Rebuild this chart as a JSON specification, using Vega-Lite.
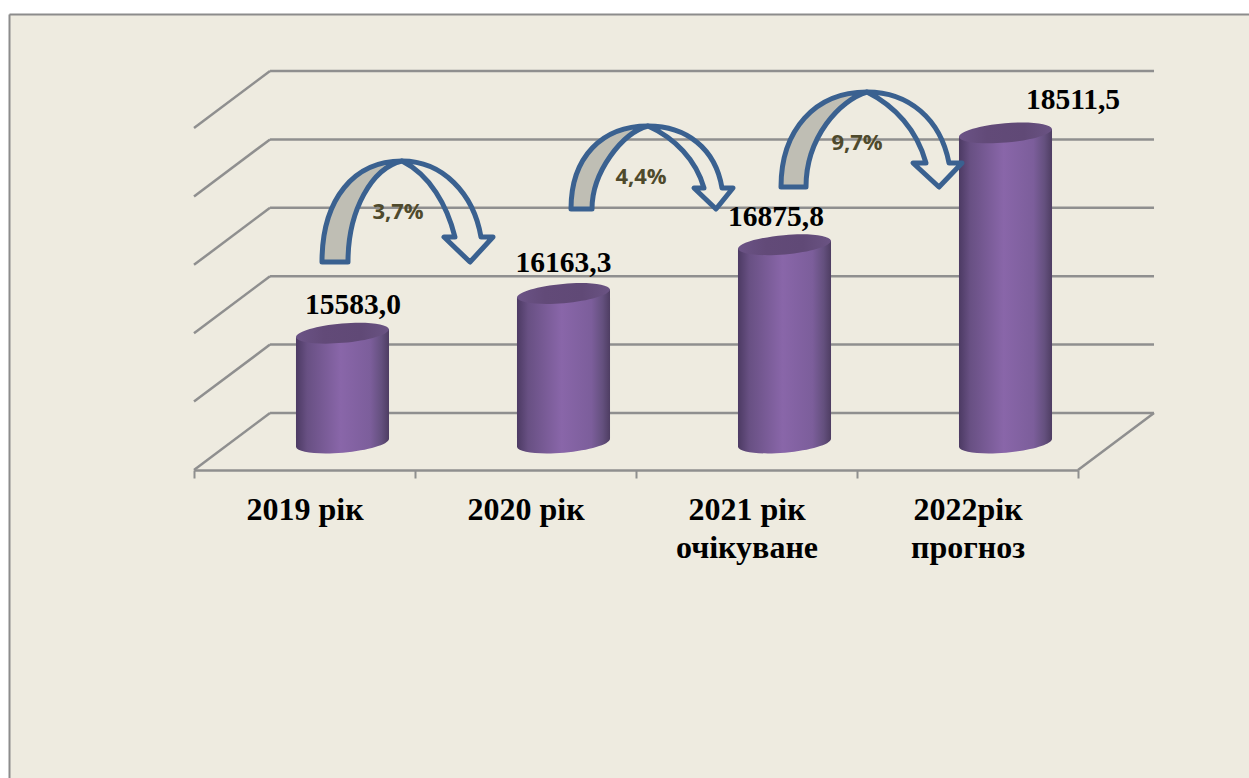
{"$schema":"https://vega.github.io/schema/vega-lite/v6.json","width":1240,"height":764,"autosize":"none","padding":{"left":9,"top":14,"right":0,"bottom":0},"background":"#FFFFFF","view":{"fill":"#EEEBE0","stroke":null},
"datasets":{
"bars":[{"year":"2019 рік","value":15583.0,"label":"15583,0","growth":"3,7%"},{"year":"2020 рік","value":16163.3,"label":"16163,3","growth":"4,4%"},{"year":"2021 рік|очікуване","value":16875.8,"label":"16875,8","growth":"9,7%"},{"year":"2022рік|прогноз","value":18511.5,"label":"18511,5","growth":""}],
"grid":[{"x":0.344,"x2":4.344,"value":14417,"value2":14417},{"x":0.344,"x2":4.344,"value":15417,"value2":15417},{"x":0.344,"x2":4.344,"value":16417,"value2":16417},{"x":0.344,"x2":4.344,"value":17417,"value2":17417},{"x":0.344,"x2":4.344,"value":18417,"value2":18417},{"x":0.344,"x2":4.344,"value":19417,"value2":19417},{"x":0,"x2":0.344,"value":13583,"value2":14417},{"x":0,"x2":0.344,"value":14583,"value2":15417},{"x":0,"x2":0.344,"value":15583,"value2":16417},{"x":0,"x2":0.344,"value":16583,"value2":17417},{"x":0,"x2":0.344,"value":17583,"value2":18417},{"x":0,"x2":0.344,"value":18583,"value2":19417},{"x":4,"x2":4.344,"value":13583,"value2":14417}]},
"encoding":{"y":{"field":"value","type":"quantitative","scale":{"domain":[9080.4,20250],"nice":false,"zero":false},"axis":{"orient":"left","title":null,"grid":false,"ticks":false,"labels":false,"domain":true,"domainColor":"#8C8C8C","domainWidth":2}}},
"resolve":{"scale":{"x":"independent","shape":"independent"}},
"layer":[
{"data":{"name":"grid"},"mark":{"type":"rule","color":"#8F8F8F","strokeWidth":2.5},"encoding":{"x":{"field":"x","type":"quantitative","scale":{"domain":[-0.8371,4.7738],"nice":false,"zero":false},"axis":{"orient":"top","title":null,"grid":false,"ticks":false,"labels":false,"domain":true,"domainColor":"#8C8C8C","domainWidth":2}},"x2":{"field":"x2"},"y2":{"field":"value2"}}},
{"data":{"name":"bars"},"mark":{"type":"bar","opacity":0},"encoding":{"x":{"field":"year","type":"nominal","sort":null,"scale":{"type":"band","range":[185,1069],"paddingInner":0,"paddingOuter":0},"axis":{"orient":"bottom","title":null,"offset":-308,"grid":false,"domain":true,"domainColor":"#8F8F8F","domainWidth":2.5,"ticks":true,"tickColor":"#8F8F8F","tickWidth":2,"tickSize":8,"tickBand":"extent","labelAngle":0,"labelFont":"Liberation Serif","labelFontWeight":"bold","labelFontSize":32,"labelColor":"#000000","labelPadding":16,"labelLineHeight":38,"labelOverlap":false,"labelExpr":"split(datum.label,'|')"}}}},
{"data":{"name":"bars"},"mark":{"type":"bar","yOffset":4,"y2Offset":-3,"fill":{"gradient":"linear","x1":0,"y1":0,"x2":1,"y2":0,"stops":[{"offset":0,"color":"#4C3A63"},{"offset":0.12,"color":"#685083"},{"offset":0.48,"color":"#8966A9"},{"offset":0.8,"color":"#7C5E9B"},{"offset":0.92,"color":"#64507E"},{"offset":1,"color":"#4E3D62"}]}},"encoding":{"x":{"field":"year","type":"nominal","sort":null,"scale":{"type":"band","domain":["2019 рік","2020 рік","2021 рік|очікуване","2022рік|прогноз"],"range":[223,1107],"paddingInner":0.579,"paddingOuter":0.2895},"axis":null},"y2":{"datum":14000}}},
{"data":{"name":"bars"},"mark":{"type":"point","filled":true,"opacity":1,"size":4,"shape":"M-46.5,4 L46.5,-4 L46.5,6 L-46.5,6 Z","fill":{"gradient":"linear","x1":0,"y1":0,"x2":1,"y2":0,"stops":[{"offset":0,"color":"#4C3A63"},{"offset":0.12,"color":"#685083"},{"offset":0.48,"color":"#8966A9"},{"offset":0.8,"color":"#7C5E9B"},{"offset":0.92,"color":"#64507E"},{"offset":1,"color":"#4E3D62"}]}},"encoding":{"x":{"field":"year","type":"nominal","sort":null,"scale":{"type":"band","domain":["2019 рік","2020 рік","2021 рік|очікуване","2022рік|прогноз"],"range":[223,1107],"paddingInner":0.579,"paddingOuter":0.2895},"axis":null}}},
{"data":{"name":"bars"},"mark":{"type":"point","filled":true,"opacity":1,"size":4,"shape":"M-46.5,-4 L46.5,-4 L46.5,-2.5 A46.7,10 -5 0 1 -46.5,5.5 Z","fill":{"gradient":"linear","x1":0,"y1":0,"x2":1,"y2":0,"stops":[{"offset":0,"color":"#4C3A63"},{"offset":0.12,"color":"#685083"},{"offset":0.48,"color":"#8966A9"},{"offset":0.8,"color":"#7C5E9B"},{"offset":0.92,"color":"#64507E"},{"offset":1,"color":"#4E3D62"}]}},"encoding":{"x":{"field":"year","type":"nominal","sort":null,"scale":{"type":"band","domain":["2019 рік","2020 рік","2021 рік|очікуване","2022рік|прогноз"],"range":[223,1107],"paddingInner":0.579,"paddingOuter":0.2895},"axis":null},"y":{"datum":14000}}},
{"data":{"name":"bars"},"mark":{"type":"point","filled":true,"opacity":1,"size":4,"shape":"M-46.5,4 A46.7,10 -5 0 1 46.5,-4 A46.7,10 -5 0 1 -46.5,4 Z","fill":{"gradient":"linear","x1":0,"y1":0,"x2":1,"y2":0,"stops":[{"offset":0,"color":"#6B5386"},{"offset":0.3,"color":"#624A78"},{"offset":0.7,"color":"#604976"},{"offset":1,"color":"#6A5383"}]}},"encoding":{"x":{"field":"year","type":"nominal","sort":null,"scale":{"type":"band","domain":["2019 рік","2020 рік","2021 рік|очікуване","2022рік|прогноз"],"range":[223,1107],"paddingInner":0.579,"paddingOuter":0.2895},"axis":null}}},
{"data":{"name":"bars"},"transform":[{"filter":"datum.growth!==''"}],"mark":{"type":"point","filled":true,"opacity":1,"size":4,"fill":"#BFBEB4","stroke":"#3A6190","strokeWidth":5,"strokeJoin":"round"},"encoding":{"x":{"field":"year","type":"nominal","sort":null,"scale":{"type":"band","domain":["2019 рік","2020 рік","2021 рік|очікуване","2022рік|прогноз"],"range":[223,1107],"paddingInner":0.579,"paddingOuter":0.2895},"axis":null},"shape":{"field":"growth","type":"nominal","legend":null,"scale":{"domain":["3,7%","4,4%","9,7%"],"range":["M-20.5,-71.2 C-20.5,-135 12,-172.2 59.5,-172.2 C29.5,-165.2 5.5,-123.2 5.5,-71.2 Z","M7.5,-84.5 C7.5,-136.5 38.5,-167.5 84.5,-167.5 C58.5,-160.5 28.5,-121.5 28.5,-84.5 Z","M-3.5,-57.8 C-3.5,-114.8 30.5,-152.8 82.5,-152.8 C55.5,-144.8 21.5,-107.8 21.5,-57.8 Z"]}}}},
{"data":{"name":"bars"},"transform":[{"filter":"datum.growth!==''"}],"mark":{"type":"point","filled":true,"opacity":1,"size":4,"fill":"transparent","stroke":"#3A6190","strokeWidth":5,"strokeJoin":"round"},"encoding":{"x":{"field":"year","type":"nominal","sort":null,"scale":{"type":"band","domain":["2019 рік","2020 рік","2021 рік|очікуване","2022рік|прогноз"],"range":[223,1107],"paddingInner":0.579,"paddingOuter":0.2895},"axis":null},"shape":{"field":"growth","type":"nominal","legend":null,"scale":{"domain":["3,7%","4,4%","9,7%"],"range":["M59.5,-172.2 C100,-172.2 131,-140 138.5,-96.2 L150.5,-96.2 L127.5,-71.2 L101.5,-96.2 L112.5,-96.2 C104.5,-128.2 87.5,-158.2 59.5,-172.2 Z","M84.5,-167.5 C123,-167.5 152,-145 158.5,-105.5 L169.5,-105.5 L152.5,-84.5 L130.5,-105.5 L140.5,-105.5 C132.5,-133.5 111.5,-155.5 84.5,-167.5 Z","M82.5,-152.8 C124,-152.8 156,-126 164.5,-81.8 L177.5,-81.8 L154.5,-57.8 L128.5,-81.8 L141.5,-81.8 C132.5,-114.8 110.5,-138.8 82.5,-152.8 Z"]}}}},
{"data":{"name":"bars"},"transform":[{"filter":"datum.growth==='3,7%'"}],"mark":{"type":"text","dx":55.5,"dy":-121.2,"font":"Open Sans","fontWeight":"bold","fontSize":22,"color":"#4F4A2C","baseline":"middle","align":"center"},"encoding":{"x":{"field":"year","type":"nominal","sort":null,"scale":{"type":"band","domain":["2019 рік","2020 рік","2021 рік|очікуване","2022рік|прогноз"],"range":[223,1107],"paddingInner":0.579,"paddingOuter":0.2895},"axis":null},"text":{"field":"growth"}}},
{"data":{"name":"bars"},"transform":[{"filter":"datum.growth==='4,4%'"}],"mark":{"type":"text","dx":77.5,"dy":-116.5,"font":"Open Sans","fontWeight":"bold","fontSize":22,"color":"#4F4A2C","baseline":"middle","align":"center"},"encoding":{"x":{"field":"year","type":"nominal","sort":null,"scale":{"type":"band","domain":["2019 рік","2020 рік","2021 рік|очікуване","2022рік|прогноз"],"range":[223,1107],"paddingInner":0.579,"paddingOuter":0.2895},"axis":null},"text":{"field":"growth"}}},
{"data":{"name":"bars"},"transform":[{"filter":"datum.growth==='9,7%'"}],"mark":{"type":"text","dx":72.5,"dy":-101.8,"font":"Open Sans","fontWeight":"bold","fontSize":22,"color":"#4F4A2C","baseline":"middle","align":"center"},"encoding":{"x":{"field":"year","type":"nominal","sort":null,"scale":{"type":"band","domain":["2019 рік","2020 рік","2021 рік|очікуване","2022рік|прогноз"],"range":[223,1107],"paddingInner":0.579,"paddingOuter":0.2895},"axis":null},"text":{"field":"growth"}}},
{"data":{"name":"bars"},"transform":[{"filter":"datum.label==='15583,0'"}],"mark":{"type":"text","dx":10.5,"dy":-28,"font":"Liberation Serif","fontWeight":"bold","fontSize":29.5,"color":"#000000","baseline":"middle","align":"center"},"encoding":{"x":{"field":"year","type":"nominal","sort":null,"scale":{"type":"band","domain":["2019 рік","2020 рік","2021 рік|очікуване","2022рік|прогноз"],"range":[223,1107],"paddingInner":0.579,"paddingOuter":0.2895},"axis":null},"text":{"field":"label"}}},
{"data":{"name":"bars"},"transform":[{"filter":"datum.label==='16163,3'"}],"mark":{"type":"text","dx":0,"dy":-30.5,"font":"Liberation Serif","fontWeight":"bold","fontSize":29.5,"color":"#000000","baseline":"middle","align":"center"},"encoding":{"x":{"field":"year","type":"nominal","sort":null,"scale":{"type":"band","domain":["2019 рік","2020 рік","2021 рік|очікуване","2022рік|прогноз"],"range":[223,1107],"paddingInner":0.579,"paddingOuter":0.2895},"axis":null},"text":{"field":"label"}}},
{"data":{"name":"bars"},"transform":[{"filter":"datum.label==='16875,8'"}],"mark":{"type":"text","dx":-8.5,"dy":-28,"font":"Liberation Serif","fontWeight":"bold","fontSize":29.5,"color":"#000000","baseline":"middle","align":"center"},"encoding":{"x":{"field":"year","type":"nominal","sort":null,"scale":{"type":"band","domain":["2019 рік","2020 рік","2021 рік|очікуване","2022рік|прогноз"],"range":[223,1107],"paddingInner":0.579,"paddingOuter":0.2895},"axis":null},"text":{"field":"label"}}},
{"data":{"name":"bars"},"transform":[{"filter":"datum.label==='18511,5'"}],"mark":{"type":"text","dx":67.5,"dy":-33,"font":"Liberation Serif","fontWeight":"bold","fontSize":29.5,"color":"#000000","baseline":"middle","align":"center"},"encoding":{"x":{"field":"year","type":"nominal","sort":null,"scale":{"type":"band","domain":["2019 рік","2020 рік","2021 рік|очікуване","2022рік|прогноз"],"range":[223,1107],"paddingInner":0.579,"paddingOuter":0.2895},"axis":null},"text":{"field":"label"}}}
]}
